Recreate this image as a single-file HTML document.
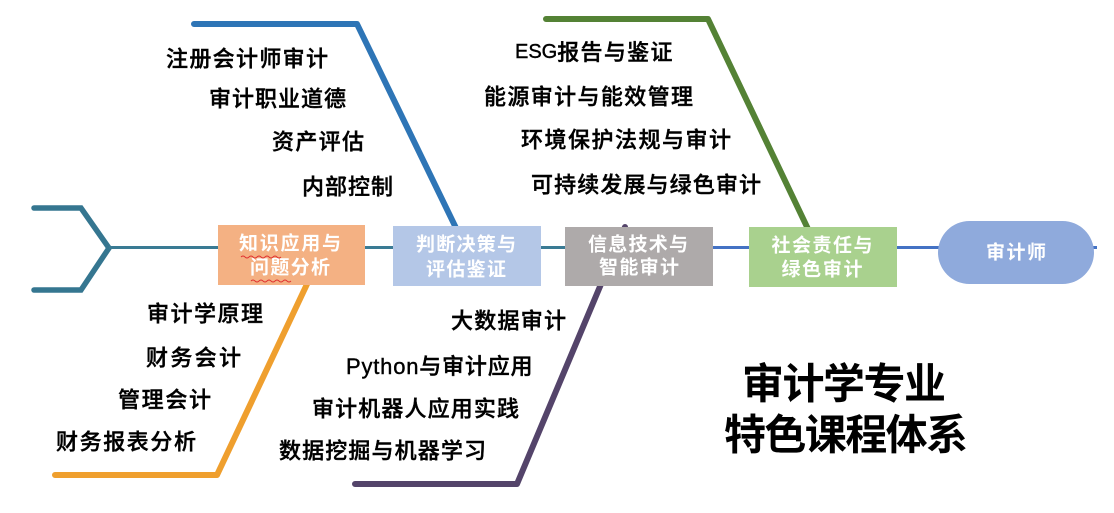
<!DOCTYPE html>
<html>
<head>
<meta charset="utf-8">
<style>
  html,body{margin:0;padding:0;background:#fff;}
  body{width:1114px;height:513px;overflow:hidden;}
  svg{display:block;}
  .lbl{font-family:"Liberation Sans","Noto Sans CJK SC",sans-serif;font-size:22px;font-weight:500;fill:#000;stroke:#000;stroke-width:0.4px;dominant-baseline:central;}
  .box{font-family:"Liberation Sans","Noto Sans CJK SC",sans-serif;font-size:19px;font-weight:bold;fill:#fff;dominant-baseline:central;}
  .ttl{font-family:"Liberation Sans","Noto Sans CJK SC",sans-serif;font-size:42px;font-weight:bold;fill:#000;dominant-baseline:central;}
</style>
</head>
<body>
<svg width="1114" height="513" viewBox="0 0 1114 513" xmlns="http://www.w3.org/2000/svg">
  <!-- chevron tail -->
  <path d="M34,208 L81,208 L109,248 L81,290 L34,290" fill="none" stroke="#357690" stroke-width="5.5" stroke-linecap="round" stroke-linejoin="miter"/>
  <!-- spine -->
  <line x1="109" y1="247.5" x2="566" y2="247.5" stroke="#3a7b94" stroke-width="3"/>
  <line x1="712" y1="247.5" x2="1097" y2="247.5" stroke="#4472c4" stroke-width="3"/>

  <!-- branch lines -->
  <path d="M194,24 L357,24 L456,228" fill="none" stroke="#2e75b6" stroke-width="6" stroke-linecap="round" stroke-linejoin="round"/>
  <path d="M546,19 L708,19 L808,229" fill="none" stroke="#548235" stroke-width="6" stroke-linecap="round" stroke-linejoin="round"/>
  <path d="M55,475 L217,475 L308,282" fill="none" stroke="#ef9f2e" stroke-width="6" stroke-linecap="round" stroke-linejoin="round"/>
  <path d="M355,484 L517,484 L625,227" fill="none" stroke="#54446a" stroke-width="6" stroke-linecap="round" stroke-linejoin="round"/>

  <!-- boxes -->
  <rect x="218" y="225" width="147" height="60" fill="#f4b183"/>
  <rect x="393" y="226" width="148" height="60" fill="#b4c7e7"/>
  <rect x="565" y="227" width="148" height="59" fill="#aeaaaa"/>
  <rect x="749" y="227" width="148" height="60" fill="#a9d18e"/>
  <rect x="938" y="221" width="156" height="63" rx="31.5" ry="31.5" fill="#8faadc"/>

  <!-- box text -->
  <text class="box" x="290" y="244" text-anchor="middle" textLength="102" lengthAdjust="spacing">知识应用与</text>
  <text class="box" x="290" y="268" text-anchor="middle" textLength="80" lengthAdjust="spacing">问题分析</text>
  <path d="M241,257 q2,-2 4,0 t4,0 t4,0 t4,0 t4,0 t4,0 t4,0 t4,0 t4,0 t4,0" fill="none" stroke="#e03030" stroke-width="0.9"/>
  <path d="M251,281 q2,-2 4,0 t4,0 t4,0 t4,0 t4,0 t4,0 t4,0 t4,0 t4,0 t4,0" fill="none" stroke="#e03030" stroke-width="0.9"/>

  <text class="box" x="466" y="245" text-anchor="middle" textLength="100" lengthAdjust="spacing">判断决策与</text>
  <text class="box" x="466" y="270" text-anchor="middle" textLength="80" lengthAdjust="spacing">评估鉴证</text>

  <text class="box" x="638" y="245" text-anchor="middle" textLength="100" lengthAdjust="spacing">信息技术与</text>
  <text class="box" x="639" y="268" text-anchor="middle" textLength="80" lengthAdjust="spacing">智能审计</text>

  <text class="box" x="822" y="246" text-anchor="middle" textLength="101" lengthAdjust="spacing">社会责任与</text>
  <text class="box" x="822" y="270" text-anchor="middle" textLength="81" lengthAdjust="spacing">绿色审计</text>

  <text class="box" x="1016" y="253" text-anchor="middle" textLength="60" lengthAdjust="spacing">审计师</text>

  <!-- top-left labels -->
  <text class="lbl" x="166" y="59" textLength="162" lengthAdjust="spacing">注册会计师审计</text>
  <text class="lbl" x="209" y="99" textLength="137" lengthAdjust="spacing">审计职业道德</text>
  <text class="lbl" x="272" y="142" textLength="92" lengthAdjust="spacing">资产评估</text>
  <text class="lbl" x="302" y="187" textLength="91" lengthAdjust="spacing">内部控制</text>

  <!-- top-right labels -->
  <text class="lbl" x="515" y="52"><tspan style="font-size:20px">ESG</tspan><tspan style="letter-spacing:1.3px">报告与鉴证</tspan></text>
  <text class="lbl" x="484" y="97" textLength="209" lengthAdjust="spacing">能源审计与能效管理</text>
  <text class="lbl" x="521" y="140" textLength="210" lengthAdjust="spacing">环境保护法规与审计</text>
  <text class="lbl" x="531" y="185" textLength="230" lengthAdjust="spacing">可持续发展与绿色审计</text>

  <!-- bottom-left labels -->
  <text class="lbl" x="147" y="314" textLength="116" lengthAdjust="spacing">审计学原理</text>
  <text class="lbl" x="146" y="358" textLength="95" lengthAdjust="spacing">财务会计</text>
  <text class="lbl" x="118" y="400" textLength="93" lengthAdjust="spacing">管理会计</text>
  <text class="lbl" x="56" y="442" textLength="140" lengthAdjust="spacing">财务报表分析</text>

  <!-- bottom-middle labels -->
  <text class="lbl" x="451" y="321" textLength="115" lengthAdjust="spacing">大数据审计</text>
  <text class="lbl" x="346" y="366"><tspan style="letter-spacing:0.8px">Python</tspan><tspan style="letter-spacing:0.8px">与审计应用</tspan></text>
  <text class="lbl" x="312" y="409" textLength="207" lengthAdjust="spacing">审计机器人应用实践</text>
  <text class="lbl" x="279" y="451" textLength="207" lengthAdjust="spacing">数据挖掘与机器学习</text>

  <!-- title -->
  <text class="ttl" x="742" y="384" textLength="204" lengthAdjust="spacing">审计学专业</text>
  <text class="ttl" x="724" y="435" textLength="244" lengthAdjust="spacing">特色课程体系</text>
</svg>
</body>
</html>
